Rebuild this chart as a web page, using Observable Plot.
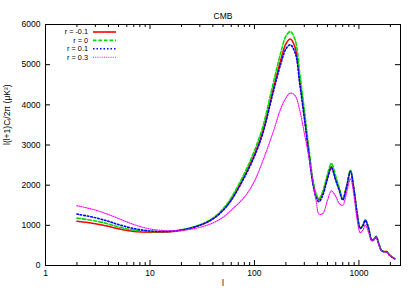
<!DOCTYPE html>
<html><head><meta charset="utf-8">
<script src="https://cdn.jsdelivr.net/npm/d3@7"></script>
<script src="https://cdn.jsdelivr.net/npm/@observablehq/plot@0.6"></script>
<style>body{margin:0;background:#fff}</style>
</head><body><div id="chart"></div>
<script>
const title = "CMB";
const xLabel = "l";
const yLabel = "l(l+1)Cₗ/2π (μK²)";
const seriesNames = ["r = -0.1", "r = 0", "r = 0.1", "r = 0.3"];
const ells = [2,3,4,5,7,10,15,20,30,40,50,60,80,100,120,150,180,200,220,245,272,300,330,365,390,415,450,500,545,600,650,700,760,830,900,960,1030,1090,1150,1230,1330,1400,1460,1550,1640,1750,1850,1950,2050,2200];
const rMinus01 = [1100,1040,975,915,850,828,838,880,1000,1160,1380,1640,2220,2760,3330,4350,5150,5520,5640,5430,4600,3750,2860,2030,1740,1640,1800,2190,2464,2150,1885,1650,1950,2350,1850,1300,930,1000,1130,950,630,660,720,540,380,345,345,270,220,170];
const r0 = [1180,1110,1035,960,880,845,848,888,1010,1180,1410,1690,2290,2860,3450,4500,5330,5710,5825,5620,4760,3880,2960,2100,1780,1660,1840,2270,2545,2220,1920,1660,1970,2370,1870,1310,935,1000,1140,950,630,665,725,540,380,345,345,270,220,170];
const r01 = [1280,1190,1100,1020,920,860,848,882,1000,1160,1370,1625,2190,2720,3280,4280,5050,5390,5494,5300,4500,3680,2820,1990,1690,1590,1740,2160,2430,2120,1860,1630,1940,2345,1850,1300,925,990,1125,945,625,655,715,535,375,340,340,265,215,165];
const r03 = [1490,1380,1270,1170,1020,910,865,870,950,1060,1200,1380,1700,2100,2600,3300,3930,4170,4290,4230,3850,3300,2730,2060,1600,1280,1290,1620,1860,1720,1540,1500,1800,2160,1700,1150,820,880,1010,840,610,650,700,520,370,335,335,265,215,165];
const seriesValues = [rMinus01, r0, r01, r03];
const seriesColors = ["#ff0000", "#00dd00", "#0000ff", "#ff00ff"];
const seriesDash = [null, "3.5,2", "1.5,2", "1,1.2"];
const seriesWidth = [1.6, 1.6, 1.6, 1.1];
const xTicks = [1, 10, 100, 1000];
const xMinor = [2,3,4,5,6,7,8,9,20,30,40,50,60,70,80,90,200,300,400,500,600,700,800,900,2000];
const yTicks = [0,1000,2000,3000,4000,5000,6000];

const W = 415, H = 291, mL = 45, mR = 15, mT = 24, mB = 26;
const pw = W - mL - mR, ph = H - mT - mB;

const rows = [];
seriesValues.forEach((vals, i) => vals.forEach((v, j) => rows.push({l: ells[j], v, s: i})));

const lineMarks = seriesValues.map((vals, i) =>
  Plot.line(rows.filter(d => d.s === i), {x: "l", y: "v", stroke: seriesColors[i], strokeWidth: seriesWidth[i], strokeDasharray: seriesDash[i], curve: "catmull-rom"})
);

const chart = Plot.plot({
  width: W, height: H,
  marginLeft: mL, marginRight: mR, marginTop: mT, marginBottom: mB,
  style: {fontFamily: "'Liberation Sans', Arial, sans-serif", fontSize: "8.5px", background: "white", color: "black"},
  x: {type: "log", domain: [1, 2500]},
  y: {domain: [0, 6000]},
  marks: [
    ...lineMarks,
    Plot.tickX(xTicks, {x: d => d, insetTop: ph - 5, stroke: "black"}),
    Plot.tickX(xTicks, {x: d => d, insetBottom: ph - 5, stroke: "black"}),
    Plot.tickX(xMinor, {x: d => d, insetTop: ph - 3, stroke: "black"}),
    Plot.tickX(xMinor, {x: d => d, insetBottom: ph - 3, stroke: "black"}),
    Plot.tickY(yTicks, {y: d => d, insetRight: pw - 5, stroke: "black"}),
    Plot.tickY(yTicks, {y: d => d, insetLeft: pw - 5, stroke: "black"}),
    Plot.frame({stroke: "black", strokeWidth: 1}),
    Plot.axisX(xTicks, {tickSize: 0, tickPadding: 4.5, tickFormat: d => String(d), label: null, fill: "black"}),
    Plot.axisY(yTicks, {tickSize: 0, tickPadding: 5, tickFormat: d => String(d), label: null, fill: "black"}),
    Plot.text([xLabel], {frameAnchor: "bottom", dy: 20, text: d => d, fill: "black"}),
    Plot.text([yLabel], {frameAnchor: "left", dx: -38, rotate: -90, text: d => d, fill: "black"}),
    Plot.text([title], {frameAnchor: "top", dy: -12, text: d => d, fill: "black"})
  ]
});

// legend
const svg = d3.select(chart);
const lg = svg.append("g").attr("font-family", "'Liberation Sans', Arial, sans-serif").attr("font-size", "7.3px");
seriesNames.forEach((name, i) => {
  const yy = mT + 8 + i * 8.4;
  lg.append("text").attr("x", 88).attr("y", yy).attr("dy", "0.32em").attr("text-anchor", "end").attr("fill", "black").text(name);
  lg.append("line").attr("x1", 93).attr("x2", 116).attr("y1", yy).attr("y2", yy)
    .attr("stroke", seriesColors[i]).attr("stroke-width", seriesWidth[i])
    .attr("stroke-dasharray", seriesDash[i]);
});
document.getElementById("chart").appendChild(chart);
</script>
</body></html>
